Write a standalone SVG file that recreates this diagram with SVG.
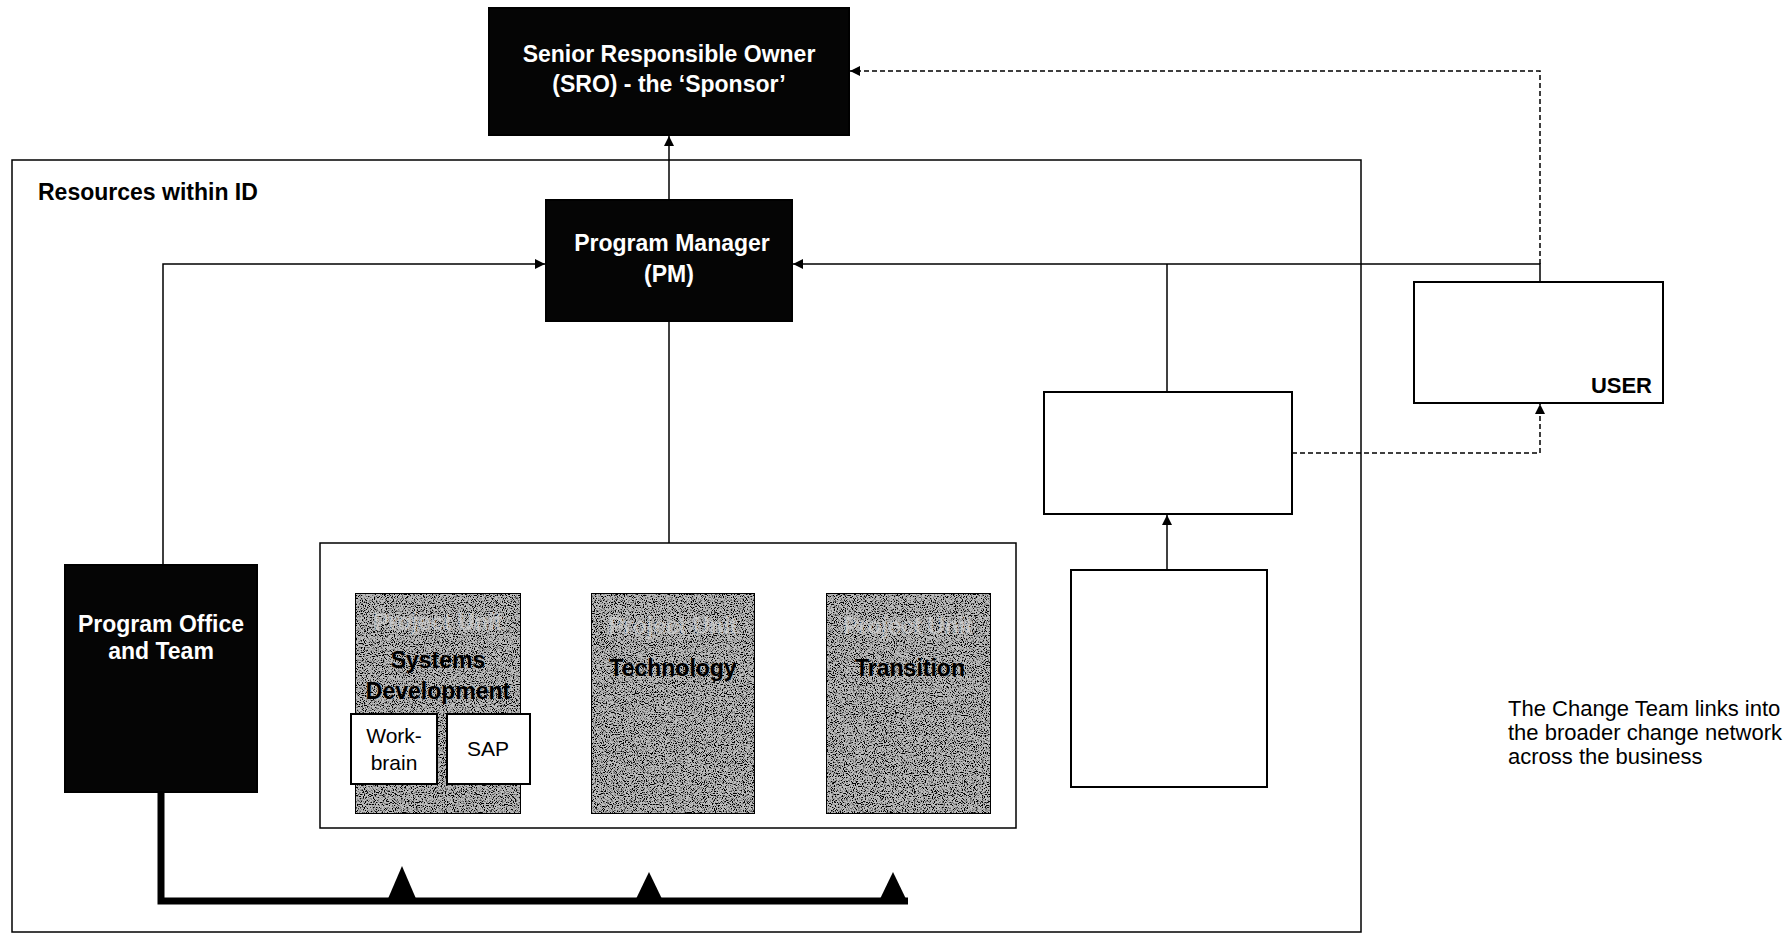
<svg xmlns="http://www.w3.org/2000/svg" width="1791" height="934" viewBox="0 0 1791 934">
<defs>
  <marker id="ah" viewBox="0 0 10 10" refX="10" refY="5" markerWidth="10" markerHeight="10" markerUnits="userSpaceOnUse" orient="auto">
    <path d="M0,0 L10,5 L0,10 z" fill="#000"/>
  </marker>
  <filter id="speck" x="0" y="0" width="100%" height="100%">
    <feTurbulence type="fractalNoise" baseFrequency="0.9" numOctaves="2" seed="7" result="n"/>
    <feColorMatrix in="n" type="matrix" values="0 0 0 0 0  0 0 0 0 0  0 0 0 0 0  -6 0 0 0 3.2" result="dots"/>
    <feComposite in="dots" in2="SourceGraphic" operator="in" result="d2"/>
    <feMerge><feMergeNode in="SourceGraphic"/><feMergeNode in="d2"/></feMerge>
  </filter>
</defs>
<style>
  .dark{fill:#050505;stroke:#000;stroke-width:2}
  .white{fill:#fff;stroke:#000;stroke-width:2}
  .gray{fill:#bdbdbd;stroke:#000;stroke-width:2}
  .wt{font-family:"Liberation Sans",Arial,sans-serif;font-weight:bold;font-size:23px;fill:#fff;text-anchor:middle}
  .bt{font-family:"Liberation Sans",Arial,sans-serif;font-weight:bold;font-size:23px;fill:#000;text-anchor:middle}
  .ft{font-family:"Liberation Sans",Arial,sans-serif;font-weight:bold;font-size:23px;fill:#d8d8d8;fill-opacity:0.6;text-anchor:middle}
  .rt{font-family:"Liberation Sans",Arial,sans-serif;font-size:22px;fill:#000}
  .ln{fill:none;stroke:#000;stroke-width:1.5}
  .dl{fill:none;stroke:#000;stroke-width:1.5;stroke-dasharray:5,3}
</style>

<g id="container">
  <rect x="12" y="160" width="1349" height="772" fill="none" stroke="#000" stroke-width="1.5"/>
  <text x="38" y="200" font-family="Liberation Sans, Arial, sans-serif" font-weight="bold" font-size="23" fill="#000">Resources within ID</text>
</g>

<g id="connectors">
  <path class="ln" d="M669,199 L669,136" marker-end="url(#ah)"/>
  <path class="dl" d="M1540,264 L1540,71 L850,71" marker-end="url(#ah)"/>
  <path class="ln" d="M163,565 L163,264 L545,264" marker-end="url(#ah)"/>
  <path class="ln" d="M1540,282 L1540,264 L793,264" marker-end="url(#ah)"/>
  <path class="ln" d="M1167,392 L1167,264"/>
  <path class="ln" d="M669,321 L669,543"/>
  <path class="ln" d="M1167,570 L1167,515" marker-end="url(#ah)"/>
  <path class="dl" d="M1292,453 L1540,453 L1540,404" marker-end="url(#ah)"/>
  <path d="M161,792 L161,901 L908,901" fill="none" stroke="#000" stroke-width="7"/>
  <path d="M402,866 L417,901 L387,901 z" fill="#000"/>
  <path d="M649,872 L663,901 L635,901 z" fill="#000"/>
  <path d="M893,872 L907,901 L879,901 z" fill="#000"/>
</g>

<g id="sro">
  <rect class="dark" x="489" y="8" width="360" height="127"/>
  <text class="wt" x="669" y="62">Senior Responsible Owner</text>
  <text class="wt" x="669" y="92">(SRO) - the ‘Sponsor’</text>
</g>

<g id="pm">
  <rect class="dark" x="546" y="200" width="246" height="121"/>
  <text class="wt" x="672" y="251" font-size="24">Program Manager</text>
  <text class="wt" x="669" y="282" font-size="24">(PM)</text>
</g>

<g id="program-office">
  <rect class="dark" x="65" y="565" width="192" height="227"/>
  <text class="wt" x="161" y="632">Program Office</text>
  <text class="wt" x="161" y="659">and Team</text>
</g>

<g id="projects">
  <rect x="320" y="543" width="696" height="285" fill="#fff" stroke="#000" stroke-width="1.5"/>
</g>

<g id="systems-development">
  <rect class="gray" x="355" y="593" width="166" height="221" filter="url(#speck)"/>
  <text class="ft" x="438" y="630">Project Unit</text>
  <text class="bt" x="438" y="668">Systems</text>
  <text class="bt" x="438" y="699">Development</text>
</g>

<g id="workbrain">
  <rect class="white" x="351" y="714" width="86" height="70"/>
  <text x="394" y="743" font-family="Liberation Sans, Arial, sans-serif" font-size="21" text-anchor="middle">Work-</text>
  <text x="394" y="770" font-family="Liberation Sans, Arial, sans-serif" font-size="21" text-anchor="middle">brain</text>
</g>

<g id="sap">
  <rect class="white" x="447" y="714" width="83" height="70"/>
  <text x="488" y="756" font-family="Liberation Sans, Arial, sans-serif" font-size="21" text-anchor="middle">SAP</text>
</g>

<g id="technology">
  <rect class="gray" x="591" y="593" width="164" height="221" filter="url(#speck)"/>
  <text class="ft" x="673" y="634">Project Unit</text>
  <text class="bt" x="673" y="676">Technology</text>
</g>

<g id="transition">
  <rect class="gray" x="826" y="593" width="165" height="221" filter="url(#speck)"/>
  <text class="ft" x="908" y="634">Project Unit</text>
  <text class="bt" x="910" y="676">Transition</text>
</g>

<g id="change-team">
  <rect class="white" x="1044" y="392" width="248" height="122"/>
</g>

<g id="change-network">
  <rect class="white" x="1071" y="570" width="196" height="217"/>
</g>

<g id="user">
  <rect class="white" x="1414" y="282" width="249" height="121"/>
  <text x="1652" y="393" font-family="Liberation Sans, Arial, sans-serif" font-weight="bold" font-size="22" text-anchor="end">USER</text>
</g>

<g id="note">
  <text class="rt" x="1508" y="716">The Change Team links into</text>
  <text class="rt" x="1508" y="740">the broader change network</text>
  <text class="rt" x="1508" y="764">across the business</text>
</g>
</svg>
